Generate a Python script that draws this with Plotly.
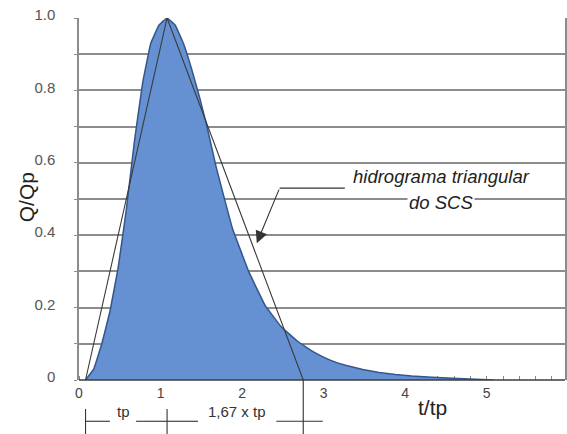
import plotly.graph_objects as go

# ---- data ----
t_curve = [0.08, 0.18, 0.28, 0.38, 0.48, 0.58, 0.68, 0.78, 0.88, 0.98, 1.08, 1.18, 1.28, 1.38,
           1.48, 1.58, 1.68, 1.88, 2.08, 2.28, 2.48, 2.68, 2.88, 3.08, 3.28, 3.48, 3.68, 3.88,
           4.08, 4.58, 5.08]
q_curve = [0.0, 0.03, 0.10, 0.19, 0.31, 0.47, 0.66, 0.82, 0.93, 0.98, 1.00, 0.98, 0.93, 0.86,
           0.78, 0.69, 0.59, 0.42, 0.30, 0.207, 0.147, 0.107, 0.077, 0.055, 0.040, 0.029, 0.021,
           0.015, 0.011, 0.005, 0.0]

t_tri = [0.08, 1.08, 2.75]
q_tri = [0.0, 1.0, 0.0]

x_ticks = [0, 1, 2, 3, 4, 5]
y_ticks = [0, 0.1, 0.2, 0.3, 0.4, 0.5, 0.6, 0.7, 0.8, 0.9, 1.0]
y_labels = ["0", "", "0.2", "", "0.4", "", "0.6", "", "0.8", "", "1.0"]

XMAX = 5.96
FONT = "Liberation Sans, Arial, sans-serif"


def px(t):
    return t / XMAX


fig = go.Figure()

fig.add_trace(go.Scatter(
    x=t_curve, y=q_curve, mode="lines", fill="tozeroy",
    fillcolor="#6591d2", line=dict(color="#34568a", width=1.5, shape="spline", smoothing=0.2),
    hoverinfo="skip", showlegend=False))

fig.add_trace(go.Scatter(
    x=t_tri, y=q_tri, mode="lines", line=dict(color="#3a3a3a", width=1.1),
    hoverinfo="skip", showlegend=False))

shapes = []
# bottom axis line above fill
shapes.append(dict(type="line", xref="paper", yref="paper", x0=0, x1=1, y0=0, y1=0,
                   line=dict(color="#3c3c3c", width=1.5), layer="above"))
# dimension marks below axis
dim_y = -0.114
for t0, y0 in [(t_tri[0], -0.08), (t_tri[1], -0.08), (t_tri[2], 0.0)]:
    shapes.append(dict(type="line", xref="paper", yref="paper", x0=px(t0), x1=px(t0),
                       y0=y0, y1=-0.15, line=dict(color="#333", width=1.1)))
for a, b in [(t_tri[0], 0.38), (0.70, t_tri[1]), (t_tri[1], 1.46), (2.42, 2.99)]:
    shapes.append(dict(type="line", xref="paper", yref="paper", x0=px(a), x1=px(b),
                       y0=dim_y, y1=dim_y, line=dict(color="#333", width=1.1)))
# leader line of the annotation
shapes.append(dict(type="line", xref="x", yref="y", x0=2.46, x1=3.26, y0=0.530, y1=0.530,
                   line=dict(color="#333", width=1.1)))

annotations = [
    dict(x=2.18, y=0.378, xref="x", yref="y", ax=2.46, ay=0.530, axref="x", ayref="y",
         text="", showarrow=True, arrowhead=2, arrowsize=2.2, arrowwidth=1.1,
         arrowcolor="#333", standoff=0),
    dict(x=4.44, y=0.562, xref="x", yref="y", text="<i>hidrograma triangular</i>",
         showarrow=False, font=dict(family=FONT, size=18.5, color="#222")),
    dict(x=4.44, y=0.490, xref="x", yref="y", text="<i>do SCS</i>", bgcolor="white",
         borderpad=1, showarrow=False, font=dict(family=FONT, size=18.5, color="#222")),
    dict(x=0.54, y=dim_y, xref="x", yref="paper", text="tp", showarrow=False, borderpad=0,
         font=dict(family=FONT, size=15, color="#333")),
    dict(x=1.94, y=dim_y, xref="x", yref="paper", text="1,67 x tp", showarrow=False,
         borderpad=0, font=dict(family=FONT, size=15, color="#333")),
    dict(x=4.34, y=-0.113, xref="x", yref="paper", text="t/tp", showarrow=False,
         font=dict(family=FONT, size=21, color="#222")),
    dict(x=-0.109, y=0.505, xref="paper", yref="paper", text="Q/Qp", textangle=-90,
         xanchor="center", yanchor="middle",
         showarrow=False, font=dict(family=FONT, size=21, color="#222")),
]

fig.update_layout(
    width=567, height=434,
    margin=dict(l=79, r=2, t=18, b=54, autoexpand=False),
    paper_bgcolor="white", plot_bgcolor="white",
    shapes=shapes, annotations=annotations,
    xaxis=dict(range=[0, XMAX], tickvals=x_ticks, ticktext=[str(v) for v in x_ticks],
               automargin=False,
               showgrid=False, zeroline=False, showline=False, ticks="", layer="below traces",
               ticklabelstandoff=3,
               minor=dict(ticks="inside", ticklen=4, dtick=0.2, tickcolor="#888", tick0=0),
               tickfont=dict(family=FONT, size=14, color="#444")),
    yaxis=dict(range=[0, 1.0], tickvals=y_ticks, ticktext=y_labels, showgrid=True,
               automargin=False,
               gridcolor="#8c8c8c", gridwidth=1.6, zeroline=False, showline=True,
               linecolor="#8c8c8c", linewidth=1.5, mirror=True, ticks="outside",
               ticklen=3, tickcolor="#8c8c8c", ticklabelstandoff=16, ticklabelshift=-3,
               tickfont=dict(family=FONT, size=15, color="#555")),
)

fig.write_html(
    "out.html",
    config={"responsive": False, "displayModeBar": False},
    post_script="document.body.style.margin='0';document.body.style.overflow='hidden';",
)
